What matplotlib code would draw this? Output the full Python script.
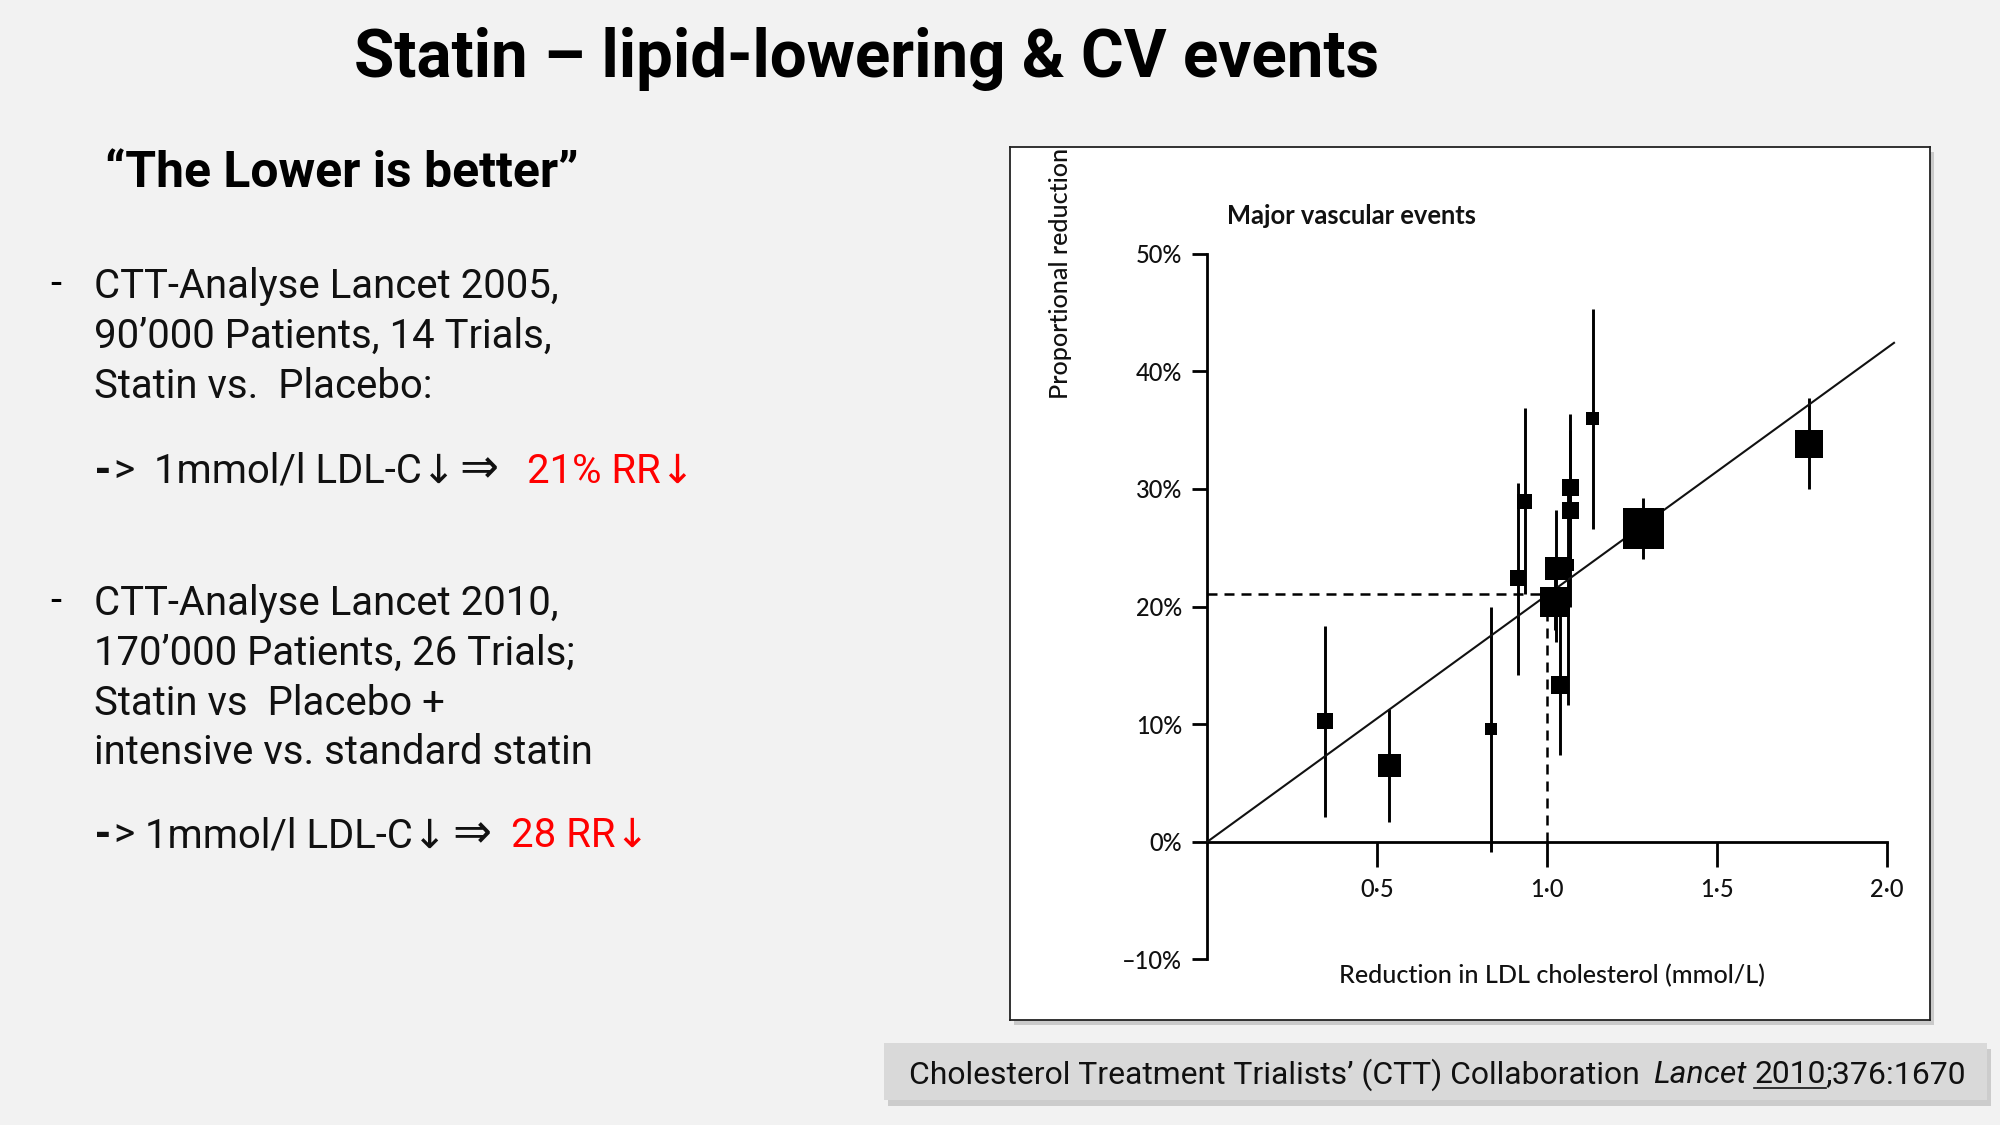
import matplotlib
matplotlib.use('Agg')
import matplotlib.pyplot as plt
from matplotlib.patches import Rectangle
from matplotlib.lines import Line2D
import numpy as np

# ---------------- data ----------------
ldl_reduction = [0.346, 0.535, 0.833, 0.913, 0.934, 1.023, 1.027, 1.037, 1.062, 1.067, 1.067, 1.133, 1.283, 1.771]
prop_reduction = [10.3, 6.5, 9.6, 22.4, 28.9, 20.4, 23.2, 13.3, 23.5, 30.1, 28.2, 36.0, 26.6, 33.8]
ci_low = [2.1, 1.7, -0.9, 14.2, 21.1, 18.0, 17.0, 7.4, 11.6, 24.0, 20.0, 26.6, 24.0, 30.0]
ci_high = [18.3, 11.3, 20.0, 30.5, 36.9, 23.0, 28.2, 19.5, 30.0, 36.4, 35.0, 45.3, 29.2, 37.7]
trial_weight_px = [16, 23, 12, 16, 15, 30, 23, 18, 12, 17, 17, 13, 41, 28]
fit_slope = 21.0      # % reduction per mmol/L
fit_x_end = 2.02
ref_ldl = 1.0
ref_rr = 21.1
y_ticks = [-10, 0, 10, 20, 30, 40, 50]
y_tick_labels = ['–10%', '0%', '10%', '20%', '30%', '40%', '50%']
x_ticks = [0.5, 1.0, 1.5, 2.0]
x_tick_labels = ['0·5', '1·0', '1·5', '2·0']

title = 'Statin – lipid-lowering & CV events'
subtitle = '“The Lower is better”'
block1 = ['CTT-Analyse Lancet 2005,', '90’000 Patients, 14 Trials,', 'Statin vs.  Placebo:']
block2 = ['CTT-Analyse Lancet 2010,', '170’000 Patients, 26 Trials;', 'Statin vs  Placebo +',
          'intensive vs. standard statin']
result1 = '21% RR↓'
result2 = '28 RR↓'

# ---------------- figure ----------------
W, H, DPI = 2000, 1125, 100
BG = '#f2f2f2'
fig = plt.figure(figsize=(W / DPI, H / DPI), dpi=DPI, facecolor=BG)
renderer = fig.canvas.get_renderer()
SLIDE = ['Roboto', 'DejaVu Sans']
CHART = ['Lato', 'DejaVu Sans']
INK = '#111111'


def fx(px):
    return px / W


def fy(py):
    return 1 - py / H


def put(x, y, s, size, family, width=None, **kw):
    t = fig.text(fx(x), fy(y), s, fontsize=size, family=family, ha='left', va='baseline', **kw)
    if width is not None:
        w = t.get_window_extent(renderer).width
        t.set_fontsize(size * width / w)
    return t


def right_px(t):
    return t.get_window_extent(renderer).x1


def fit_size(s, width, family, **kw):
    t = fig.text(0, 0, s, fontsize=20, family=family, **kw)
    w = t.get_window_extent(renderer).width
    t.remove()
    return 20 * width / w


# title & subtitle
put(354, 76.7, title, 40, SLIDE, width=1026, weight='bold')
put(104.7, 186.7, subtitle, 26, SLIDE, width=475, weight='bold')

# body text
body = fit_size('intensive vs. standard statin', 498, SLIDE)
for y0, lines in ((298.3, block1), (615.0, block2)):
    put(50, y0 - 2, '-', body, SLIDE)
    for i, line in enumerate(lines):
        put(94, y0 + i * 49.8, line, body, SLIDE, color=INK)

# arrow lines
for yb, x1, x2, x3, res in ((482.7, 153.8, 459, 527, result1), (847.3, 144.6, 452, 510.6, result2)):
    t_dash = put(94, yb, '-', body, SLIDE, weight='black', color=INK)
    put(right_px(t_dash) + 1, yb, '>', body, SLIDE, color=INK)
    put(x1, yb, '1mmol/l LDL-C↓', body, SLIDE, color=INK)
    put(x2, yb, '⇒', body, SLIDE, width=39, color=INK)
    put(x3, yb, res, body, SLIDE, color='#ff0000')

# ---------------- chart box ----------------
shadow = Rectangle((fx(1014), fy(1025)), 920 / W, 873 / H, transform=fig.transFigure,
                   facecolor='#9a9a9a', edgecolor='none', alpha=0.45, zorder=0.5)
fig.patches.append(shadow)
bx = fig.add_axes([fx(1010), fy(1020), 920 / W, 873 / H])
bx.set_zorder(1)
bx.set_facecolor('white')
bx.set_xticks([])
bx.set_yticks([])
for sp in bx.spines.values():
    sp.set_color('#222222')
    sp.set_linewidth(1.3)

# main axes
px_per_unit = 339.9
px_per_pct = 11.76
x0_px, y0_px = 1207.4, 841.7
xlim = (-0.1, 2.1)
ylim = (-12, 52)
left_px = x0_px + xlim[0] * px_per_unit
ax = fig.add_axes([fx(left_px), fy(y0_px - ylim[0] * px_per_pct),
                   (xlim[1] - xlim[0]) * px_per_unit / W,
                   (ylim[1] - ylim[0]) * px_per_pct / H])
ax.set_zorder(2)
ax.set_facecolor('none')
ax.set_xlim(*xlim)
ax.set_ylim(*ylim)
for s in ('top', 'right'):
    ax.spines[s].set_visible(False)
ax.spines['left'].set_position(('data', 0))
ax.spines['left'].set_bounds(-10, 50)
ax.spines['bottom'].set_position(('data', 0))
ax.spines['bottom'].set_bounds(0, 2.0)
for s in ('left', 'bottom'):
    ax.spines[s].set_linewidth(2.0)
    ax.spines[s].set_color('black')
ax.set_yticks(y_ticks, y_tick_labels)
ax.set_xticks(x_ticks, x_tick_labels)
ax.tick_params(axis='y', length=10.8, width=2.0, pad=7.5, labelsize=17, colors='black')
ax.tick_params(axis='x', length=18, width=2.0, pad=8, labelsize=17, colors='black')
for lab in ax.get_xticklabels() + ax.get_yticklabels():
    lab.set_family(CHART)
    lab.set_weight('medium')
    lab.set_color(INK)

ax.vlines(ldl_reduction, ci_low, ci_high, colors='black', linewidth=2.1, zorder=2, clip_on=False)
dash = (0, (4, 2.8))
ax.plot([0, ref_ldl], [ref_rr, ref_rr], color='black', lw=1.8, ls=dash, zorder=2)
ax.plot([ref_ldl, ref_ldl], [0, ref_rr], color='black', lw=1.8, ls=dash, zorder=2)
ax.plot([0, fit_x_end], [0, fit_slope * fit_x_end], color=INK, lw=1.5, zorder=3, clip_on=False)
sizes = (np.array(trial_weight_px) / (DPI / 72)) ** 2
ax.scatter(ldl_reduction, prop_reduction, s=sizes, marker='s', c='black', linewidths=0, zorder=4, clip_on=False)


# chart texts (drawn in the box axes so they sit above the white panel)
def box_text(x, y, s, size, width=None, **kw):
    t = bx.text(fx(x), fy(y), s, fontsize=size, family=CHART, ha='left', va='baseline',
                transform=fig.transFigure, color=INK, **kw)
    if width is not None:
        w = t.get_window_extent(renderer).width
        t.set_fontsize(size * width / w)
    return t


box_text(1338.8, 983, 'Reduction in LDL cholesterol (mmol/L)', 18, width=426, weight='medium')
box_text(1226.7, 224, 'Major vascular events', 16, width=250, weight='bold')
ysz = fit_size('Reduction in LDL cholesterol (mmol/L)', 426, CHART, weight='medium')
yl = bx.text(fx(1060), fy(399), 'Proportional reduction', fontsize=ysz, weight='medium',
             family=CHART, rotation=90, rotation_mode='anchor', ha='left', va='center',
             color=INK, transform=fig.transFigure, clip_on=True)
yl.set_clip_box(bx.bbox)

# ---------------- citation ----------------
fig.patches.append(Rectangle((fx(888), fy(1106)), (1987 - 883.6) / W, (1100 - 1042.7) / H,
                             transform=fig.transFigure, facecolor='#a8a8a8', edgecolor='none',
                             alpha=0.5, zorder=0.5))
fig.patches.append(Rectangle((fx(883.6), fy(1100)), (1987 - 883.6) / W, (1100 - 1042.7) / H,
                             transform=fig.transFigure, facecolor='#d9d9d9', edgecolor='none', zorder=0.6))
cs = fit_size('Cholesterol Treatment Trialists’ (CTT) Collaboration', 730, SLIDE)
yb = 1083.3
put(908.6, yb, 'Cholesterol Treatment Trialists’ (CTT) Collaboration', cs, SLIDE, color=INK)
t_l = put(1652.9, yb, 'Lancet', cs, SLIDE, style='italic', color=INK)
x_2010 = right_px(t_l) + 8
t_y = put(x_2010, yb, '2010', cs, SLIDE, color=INK)
x_end = right_px(t_y)
put(x_end, yb, ';376:1670', cs, SLIDE, color=INK)
fig.lines.append(Line2D([fx(x_2010), fx(x_end)], [fy(1087.5), fy(1087.5)], transform=fig.transFigure,
                        color=INK, lw=1.2))

fig.savefig('out.png', dpi=DPI, facecolor=BG)
